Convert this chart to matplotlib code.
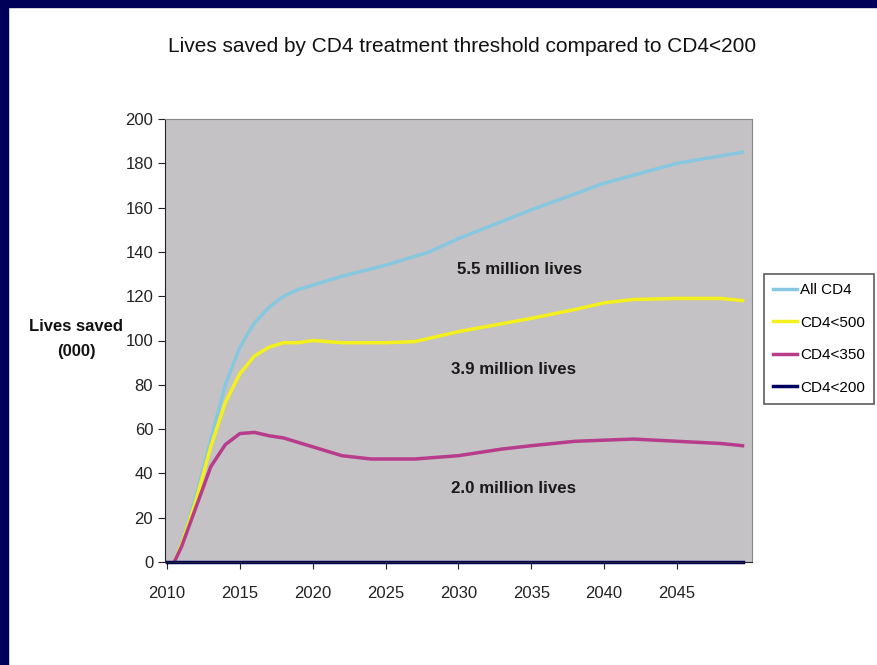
import matplotlib.pyplot as plt
from matplotlib.patches import Rectangle

plt.rcParams['font.family'] = ['Liberation Sans Narrow', 'Liberation Sans', 'DejaVu Sans']

# lives saved (000) against CD4<200, by treatment threshold
years_all = [2010.5, 2011, 2012, 2013, 2014, 2015, 2016, 2017, 2018, 2019, 2020,
             2022, 2025, 2028, 2030, 2035, 2040, 2045, 2049.5]
all_cd4 = [0, 8, 30, 55, 80, 97, 108, 115, 120, 123, 125,
           129, 134, 140, 146, 159, 171, 180, 185]

years_500 = [2010.5, 2011, 2012, 2013, 2014, 2015, 2016, 2017, 2018, 2019, 2020,
             2022, 2025, 2027, 2030, 2035, 2038, 2040, 2042, 2045, 2048, 2049.5]
cd4_500 = [0, 8, 28, 52, 72, 85, 93, 97, 99, 99, 100,
           99, 99, 99.5, 104, 110, 114, 117, 118.5, 119, 119, 118]

years_350 = [2010.5, 2011, 2012, 2013, 2014, 2015, 2016, 2017, 2018, 2020, 2022,
             2024, 2027, 2030, 2033, 2035, 2038, 2040, 2042, 2045, 2048, 2049.5]
cd4_350 = [0, 7, 25, 43, 53, 58, 58.5, 57, 56, 52, 48,
           46.5, 46.5, 48, 51, 52.5, 54.5, 55, 55.5, 54.5, 53.5, 52.5]

years_200 = [2010, 2049.5]
cd4_200 = [0, 0]

labels = ['All CD4', 'CD4<500', 'CD4<350', 'CD4<200']
colors = ['#87c8e0', '#f4f01e', '#b83c8c', '#000060']

fig = plt.figure(figsize=(8.77, 6.65), dpi=100)
fig.patch.set_facecolor('white')

# dark frame along the left and top edges
fig.patches.append(Rectangle((0, 0), 8 / 877, 1, transform=fig.transFigure,
                             color='#000058', zorder=0))
fig.patches.append(Rectangle((0, 1 - 7 / 665), 1, 7 / 665, transform=fig.transFigure,
                             color='#000058', zorder=0))

ax = fig.add_axes([165 / 877, 1 - 562 / 665, 587 / 877, 443 / 665])
ax.set_facecolor('#c4c2c4')

ax.plot(years_all, all_cd4, color=colors[0], lw=2.5, label=labels[0])
ax.plot(years_500, cd4_500, color=colors[1], lw=2.5, label=labels[1])
ax.plot(years_350, cd4_350, color=colors[2], lw=2.5, label=labels[2])
ax.plot(years_200, cd4_200, color=colors[3], lw=2.5, label=labels[3], clip_on=False)

ax.set_xlim(2009.86, 2050.15)
ax.set_ylim(0, 200)
ax.set_xticks(range(2010, 2050, 5))
ax.set_yticks(range(0, 201, 20))
ax.tick_params(direction='out', length=5, labelsize=12, colors='#222222')
ax.tick_params(axis='x', pad=12)
for side in ['left', 'bottom']:
    ax.spines[side].set_color('#222222')
for side in ['right', 'top']:
    ax.spines[side].set_color('#888888')

notes = [(2034.2, 132, '5.5 million lives'),
         (2033.8, 87, '3.9 million lives'),
         (2033.8, 33, '2.0 million lives')]
for x, y, s in notes:
    ax.text(x, y, s, fontsize=12.2, fontweight='bold',
            ha='center', va='center', color='#1a1a1a')

fig.text(462 / 877, 1 - 47 / 665, 'Lives saved by CD4 treatment threshold compared to CD4<200',
         fontsize=15, ha='center', va='center', color='#111111')
fig.text(76 / 877, 1 - 339 / 665, 'Lives saved\n(000)', fontsize=12, fontweight='bold',
         ha='center', va='center', color='#111111', linespacing=1.9)

leg = fig.legend(loc='center', bbox_to_anchor=(819 / 877, 1 - 339 / 665),
                 fontsize=11, frameon=True, fancybox=False, handlelength=1.6,
                 handletextpad=0.2, labelspacing=1.2, borderpad=0.6)
leg.get_frame().set_edgecolor('#333333')
leg.get_frame().set_linewidth(1.2)

fig.savefig('out.png', dpi=100)
